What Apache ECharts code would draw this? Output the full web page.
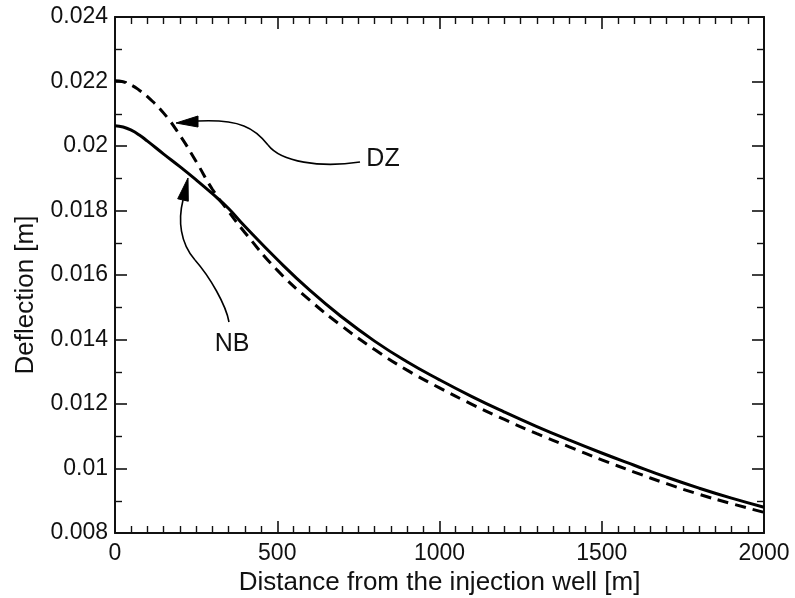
<!DOCTYPE html>
<html>
<head>
<meta charset="utf-8">
<script src="https://cdn.jsdelivr.net/npm/echarts@6/dist/echarts.min.js"></script>
<style>
html,body{margin:0;padding:0;background:#fff;}
#chart{width:795px;height:598px;}
</style>
</head>
<body>
<div id="chart"></div>
<script>
// ---- data ----
var distance = [0,25,50,75,100,150,200,250,300,350,400,500,600,700,800,900,1000,1100,1200,1300,1400,1500,1600,1700,1800,1900,2000];
var deflectionNB = [0.02063,0.02059,0.02049,0.02034,0.02015,0.01975,0.01936,0.01895,0.01852,0.01806,0.01751,0.01648,0.01553,0.01469,0.01395,0.01331,0.01275,0.01223,0.01175,0.01130,0.01088,0.01048,0.01010,0.00973,0.00939,0.00908,0.00880];
var deflectionDZ = [0.02202,0.02199,0.02189,0.02173,0.02153,0.02102,0.02033,0.01952,0.01866,0.01797,0.01732,0.01615,0.01522,0.01441,0.01369,0.01305,0.01250,0.01199,0.01152,0.01108,0.01067,0.01027,0.00989,0.00953,0.00920,0.00891,0.00864];
var xTicks = [0,500,1000,1500,2000];
var yTicks = [0.008,0.010,0.012,0.014,0.016,0.018,0.020,0.022,0.024];
var seriesNames = ['NB','DZ'];
var xTitle = 'Distance from the injection well [m]';
var yTitle = 'Deflection [m]';

// annotation anchors in data coordinates
var dzArrowCurves = [
  [[255.8,0.020775],[385.2,0.020837],[431.4,0.020558],[471.5,0.020031]],
  [[471.5,0.020031],[511.6,0.019504],[631.7,0.019318],[755.0,0.019504]]
];
var dzArrowHead = [[188.0,0.020713],[255.8,0.02093],[255.8,0.020589]];
var dzLabel = [825.9,0.019597];
var nbArrowCurves = [
  [[209.6,0.018326],[194.1,0.017705],[200.3,0.016992],[246.5,0.016465]],
  [[246.5,0.016465],[292.8,0.015938],[342.1,0.01507],[351.3,0.014543]]
];
var nbArrowHead = [[225.0,0.019008],[193.2,0.018363],[225.9,0.018288]];
var nbLabel = [360.6,0.01386];

var FONT = '"Liberation Sans", Arial, Helvetica, sans-serif';
var INK = '#111';

var chart = echarts.init(document.getElementById('chart'), null, {renderer:'canvas'});

function pairs(xs, ys){ return xs.map(function(x,i){ return [x, ys[i]]; }); }
function fmtY(v){ return String(+v.toFixed(3)); }
function fmtX(v){ return String(Math.round(v)); }

var commonX = {
  type:'value', min:xTicks[0], max:xTicks[xTicks.length-1], interval:500,
  axisLine:{show:true, onZero:false, lineStyle:{color:INK, width:2}},
  axisTick:{show:true, inside:true, length:12, lineStyle:{color:INK, width:1.6}},
  minorTick:{show:true, splitNumber:10, length:7, lineStyle:{color:INK, width:1.4}},
  splitLine:{show:false}
};
var commonY = {
  type:'value', min:yTicks[0], max:yTicks[yTicks.length-1], interval:0.002,
  axisLine:{show:true, onZero:false, lineStyle:{color:INK, width:2}},
  axisTick:{show:true, inside:true, length:12, lineStyle:{color:INK, width:1.6}},
  minorTick:{show:true, splitNumber:2, length:7, lineStyle:{color:INK, width:1.4}},
  splitLine:{show:false}
};

var option = {
  backgroundColor:'#fff',
  animation:false,
  grid:{left:115, right:31, top:17, bottom:65, containLabel:false, outerBoundsMode:'none'},
  xAxis:[
    Object.assign({}, commonX, {
      position:'bottom',
      name:xTitle, nameLocation:'middle', nameGap:34,
      nameTextStyle:{fontFamily:FONT, fontSize:26, color:INK},
      axisLabel:{show:true, margin:9, fontFamily:FONT, fontSize:23, color:INK, formatter:fmtX}
    }),
    Object.assign({}, commonX, {position:'top', axisLabel:{show:false}})
  ],
  yAxis:[
    Object.assign({}, commonY, {
      position:'left',
      name:yTitle, nameLocation:'middle', nameGap:76, nameRotate:90,
      nameTextStyle:{fontFamily:FONT, fontSize:26, color:INK, padding:[0,40,0,0]},
      axisLabel:{show:true, margin:7, fontFamily:FONT, fontSize:23, color:INK, formatter:fmtY}
    }),
    Object.assign({}, commonY, {position:'right', axisLabel:{show:false}})
  ],
  series:[
    {
      name:seriesNames[0], type:'line', xAxisIndex:0, yAxisIndex:0,
      data:pairs(distance, deflectionNB), smooth:0.5, showSymbol:false, symbol:'none',
      lineStyle:{color:'#000', width:3, type:'solid'}
    },
    {
      name:seriesNames[1], type:'line', xAxisIndex:0, yAxisIndex:0,
      data:pairs(distance, deflectionDZ), smooth:0.5, showSymbol:false, symbol:'none',
      lineStyle:{color:'#000', width:3, type:[11,7]}
    }
  ]
};
chart.setOption(option);

function P(pt){ return chart.convertToPixel({xAxisIndex:0, yAxisIndex:0}, pt); }
function bez(c){
  var a=P(c[0]), b=P(c[1]), d=P(c[2]), e=P(c[3]);
  return {type:'bezierCurve', silent:true,
    shape:{x1:a[0],y1:a[1],cpx1:b[0],cpy1:b[1],cpx2:d[0],cpy2:d[1],x2:e[0],y2:e[1]},
    style:{stroke:'#000', lineWidth:1.6, fill:null}};
}
function head(h){
  return {type:'polygon', silent:true, shape:{points:h.map(P)}, style:{fill:'#000', stroke:'#000', lineWidth:1}};
}
function label(txt, pt){
  var p=P(pt);
  return {type:'text', silent:true, x:p[0], y:p[1],
    style:{text:txt, fontFamily:FONT, fontSize:25, fill:INK, align:'center', verticalAlign:'middle'}};
}
var g = [];
dzArrowCurves.forEach(function(c){ g.push(bez(c)); });
nbArrowCurves.forEach(function(c){ g.push(bez(c)); });
g.push(head(dzArrowHead));
g.push(head(nbArrowHead));
g.push(label(seriesNames[1], dzLabel));
g.push(label(seriesNames[0], nbLabel));
chart.setOption({graphic:g});
</script>
</body>
</html>
